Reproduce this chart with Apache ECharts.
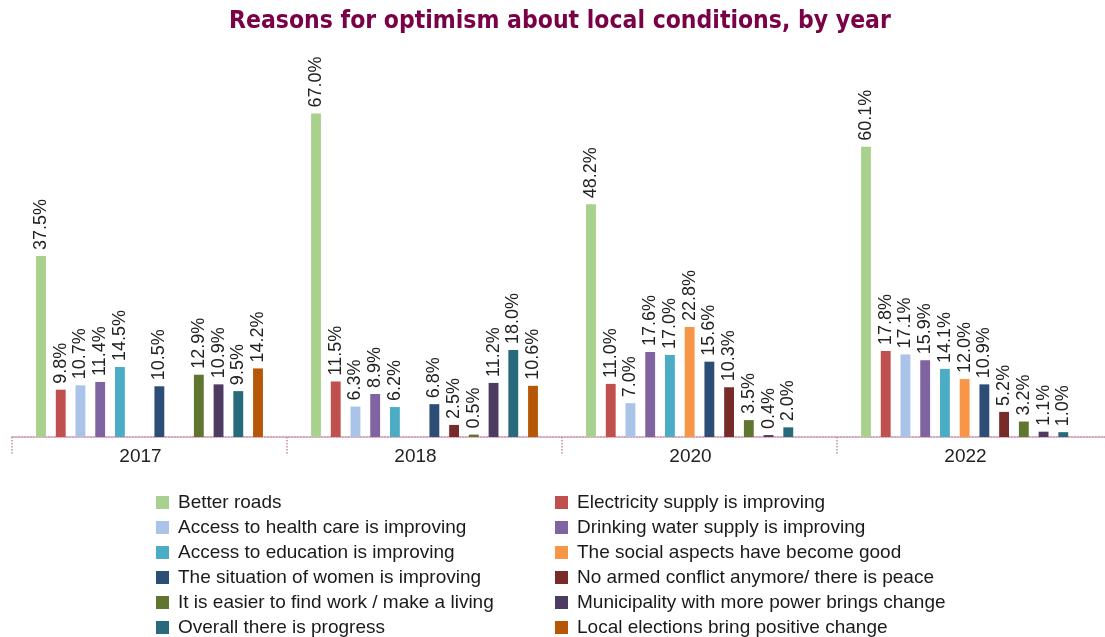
<!DOCTYPE html>
<html>
<head>
<meta charset="utf-8">
<script src="https://cdn.jsdelivr.net/npm/echarts@6/dist/echarts.min.js"></script>
<style>html,body{margin:0;padding:0;background:#fff;overflow:hidden}#c{width:1113px;height:637px}</style>
</head>
<body>
<div id="c"></div>
<script>
const years = ['2017', '2018', '2020', '2022'];
const seriesNames = [
  'Better roads',
  'Electricity supply is improving',
  'Access to health care is improving',
  'Drinking water supply is improving',
  'Access to education is improving',
  'The social aspects have become good',
  'The situation of women is improving',
  'No armed conflict anymore/ there is peace',
  'It is easier to find work / make a living',
  'Municipality with more power brings change',
  'Overall there is progress',
  'Local elections bring positive change'
];
const betterRoads   = [37.5, 67.0, 48.2, 60.1];
const electricity   = [9.8, 11.5, 11.0, 17.8];
const healthCare    = [10.7, 6.3, 7.0, 17.1];
const drinkingWater = [11.4, 8.9, 17.6, 15.9];
const education     = [14.5, 6.2, 17.0, 14.1];
const socialAspects = [null, null, 22.8, 12.0];
const women         = [10.5, 6.8, 15.6, 10.9];
const noConflict    = [null, 2.5, 10.3, 5.2];
const easierWork    = [12.9, 0.5, 3.5, 3.2];
const municipality  = [10.9, 11.2, 0.4, 1.1];
const progress      = [9.5, 18.0, 2.0, 1.0];
const localElections= [14.2, 10.6, null, null];

const seriesData = [betterRoads, electricity, healthCare, drinkingWater, education, socialAspects,
  women, noConflict, easierWork, municipality, progress, localElections];
const colors = ['#a9d18e', '#c0504d', '#a9c4e8', '#8064a2', '#4bacc6', '#f79646',
  '#2c4d75', '#772c2a', '#5f7530', '#4d3b62', '#276a7c', '#b65708'];

const chart = echarts.init(document.getElementById('c'));
const series = seriesNames.map((n, i) => ({
  name: n,
  type: 'bar',
  data: seriesData[i],
  barGap: '100%',
  barCategoryGap: '17.5%',
  itemStyle: { color: colors[i] },
  label: {
    show: true,
    position: 'top',
    rotate: 90,
    align: 'left',
    verticalAlign: 'middle',
    distance: 6,
    formatter: p => p.value == null ? '' : p.value.toFixed(1) + '%',
    fontFamily: 'Liberation Sans',
    fontSize: 18,
    color: '#222'
  }
}));

const leftNames = seriesNames.filter((_, i) => i % 2 === 0);
const rightNames = seriesNames.filter((_, i) => i % 2 === 1);
const legendCommon = {
  orient: 'vertical',
  top: 490,
  height: 200,
  itemWidth: 13,
  itemHeight: 13,
  itemGap: 0,
  icon: 'rect',
  textStyle: { fontFamily: 'Liberation Sans', fontSize: 19, color: '#1a1a1a', lineHeight: 25, padding: [0, 0, 0, 4] },
  padding: 0
};

chart.setOption({
  animation: false,
  color: colors,
  title: {
    text: 'Reasons for optimism about local conditions, by year',
    left: 229,
    top: 9,
    padding: 0,
    textStyle: { fontFamily: 'DejaVu Sans Condensed', fontWeight: 'bold', fontSize: 24.5, color: '#7a0047' }
  },
  legend: [
    Object.assign({}, legendCommon, { left: 156, data: leftNames }),
    Object.assign({}, legendCommon, { left: 555, data: rightNames })
  ],
  grid: { left: 12, top: 99, right: 1, height: 338, containLabel: false },
  xAxis: {
    type: 'category',
    data: years,
    axisLine: { show: true, lineStyle: { color: '#c48aa6', type: 'dotted', width: 1.5 } },
    axisTick: { show: true, length: 18, lineStyle: { color: '#c48aa6', type: 'dotted', width: 1.5 } },
    axisLabel: { fontFamily: 'Liberation Sans', fontSize: 19, color: '#222', margin: 10, padding: [0, 18, 0, 0] }
  },
  yAxis: { type: 'value', min: 0, max: 70, show: false, splitLine: { show: false } },
  series: series
});
</script>
</body>
</html>
